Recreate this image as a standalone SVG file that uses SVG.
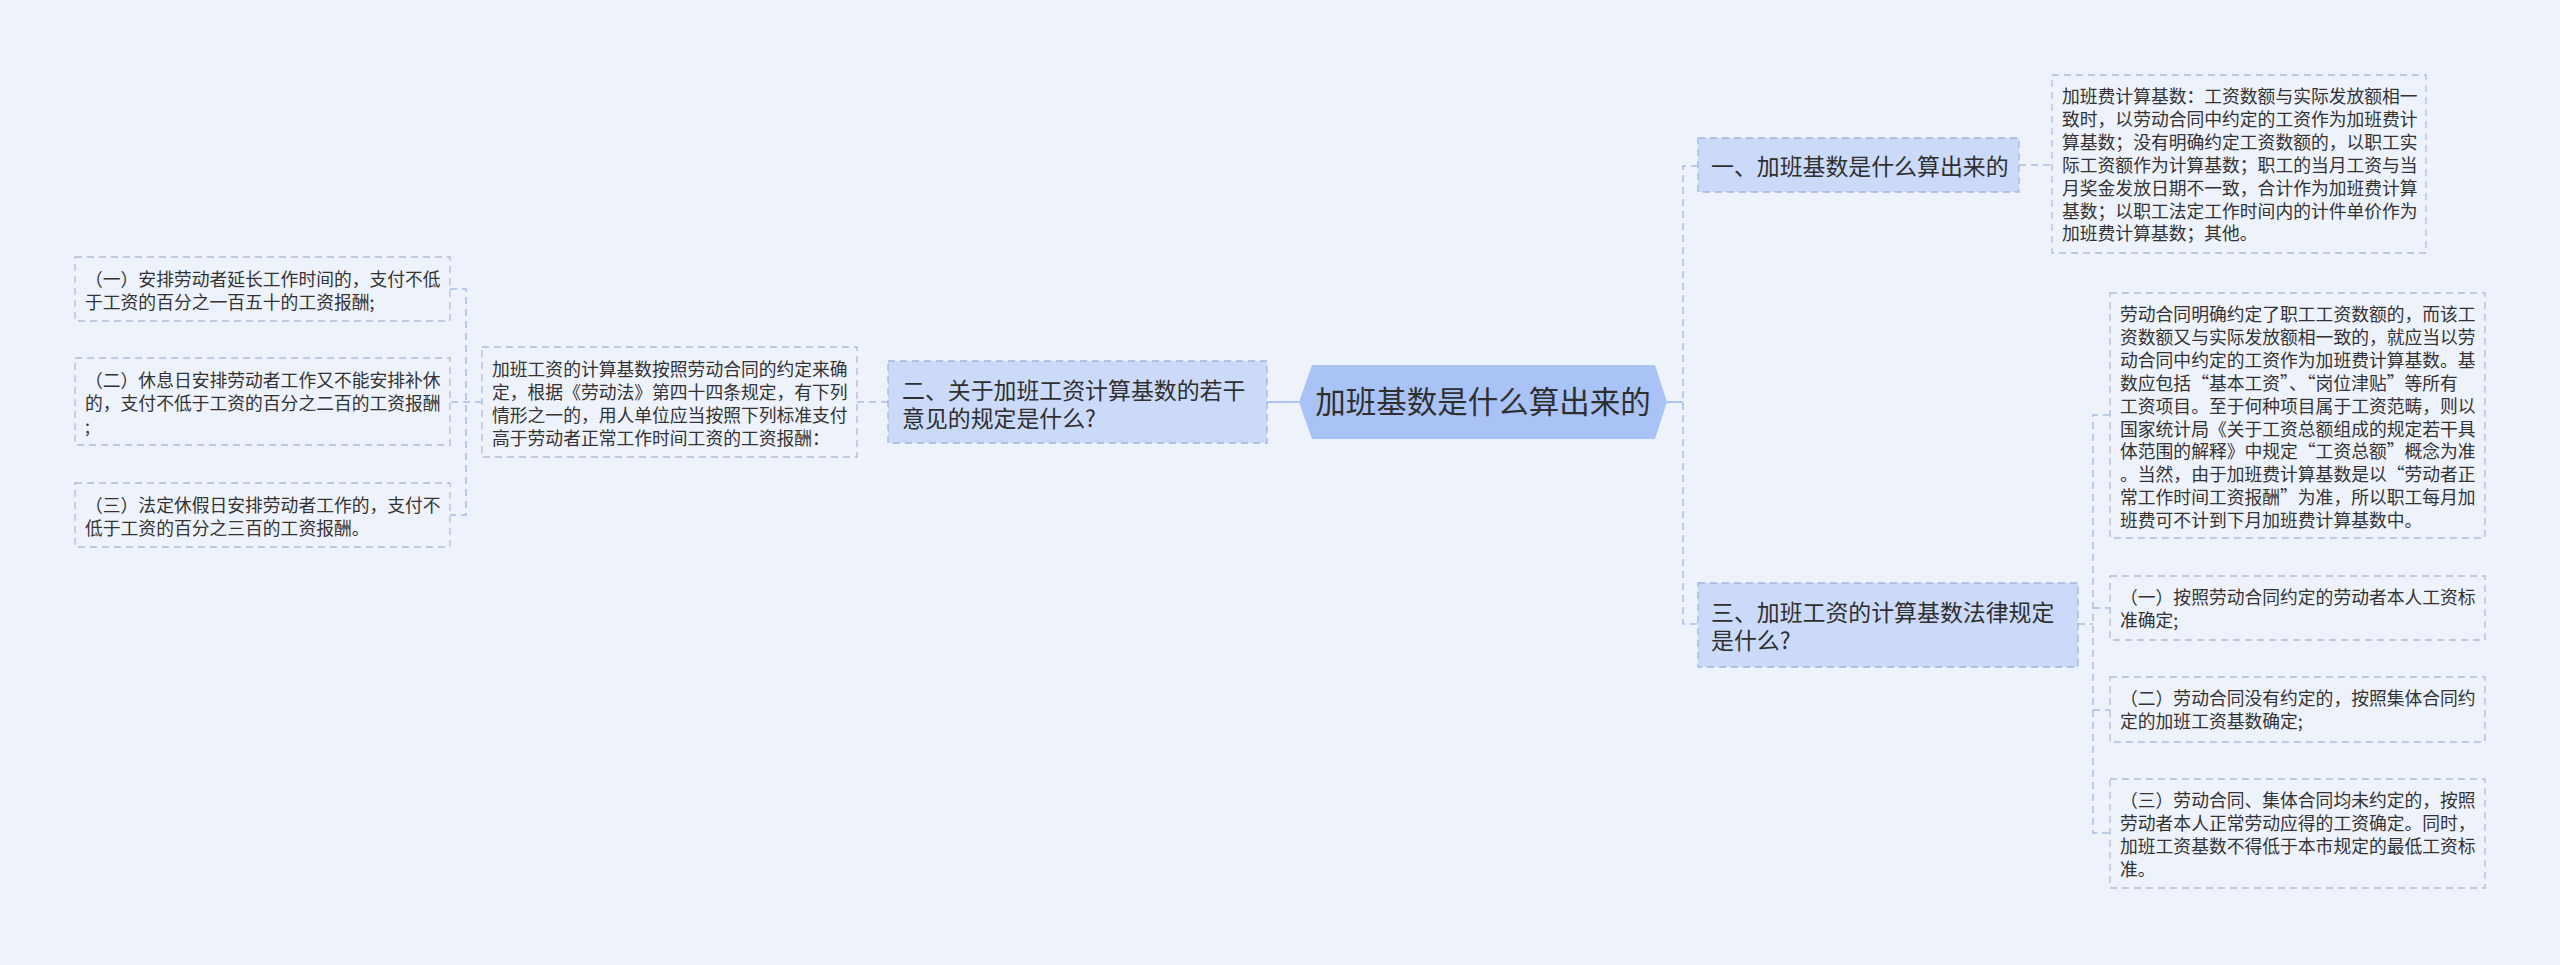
<svg xmlns="http://www.w3.org/2000/svg" width="2560" height="965" viewBox="0 0 2560 965">
<defs>
<style>
.bg{fill:#eef2fb}
.root{fill:#a9c3f6}
.main{fill:#cbdaf9;stroke:#a3b3de;stroke-width:1.3;stroke-dasharray:7 5}
.leaf{fill:none;stroke:#b1bad6;stroke-width:1.3;stroke-dasharray:7 5}
.t{font-family:"Noto Sans CJK SC","Noto Sans",sans-serif;fill:#2f2f2f}
.tr{font-size:30.5px}
.tm{font-size:22.9px}
.tl{font-size:17.8px;fill:#333}
.c{fill:none;stroke:#a8bbe6;stroke-width:1.5;stroke-dasharray:7 5}
.cs{fill:none;stroke:#a9c3f6;stroke-width:2}
</style>
</defs>
<rect class="bg" x="0" y="0" width="2560" height="965"/>

<g id="connectors">
<path class="cs" d="M1267,402 H1299"/>
<path class="c" d="M857,402 H888"/>
<path class="c" d="M482,402 H450"/>
<path class="c" d="M450,289 H466 V515 H450"/>
<path class="cs" d="M1667,402 H1683"/>
<path class="c" d="M1698,166 H1683 V624 H1698"/>
<path class="c" d="M2019,165 H2052"/>
<path class="c" d="M2078,624 H2093"/>
<path class="c" d="M2110,415 H2093 V833 H2110"/>
<path class="c" d="M2093,608 H2110"/>
<path class="c" d="M2093,710 H2110"/>
</g>

<g id="root">
<polygon class="root" points="1299,402 1312,365 1655,365 1667,402 1655,439 1312,439"/>
<text class="t tr" x="1483" y="413" text-anchor="middle">加班基数是什么算出来的</text>
</g>

<g id="n1">
<rect class="main" x="1698" y="138" width="321" height="54"/>
<text class="t tm" x="1711" y="175">一、加班基数是什么算出来的</text>
</g>

<g id="n2">
<rect class="main" x="888" y="361" width="379" height="82"/>
<text class="t tm"><tspan x="902" y="399">二、关于加班工资计算基数的若干</tspan><tspan x="902" y="426.5">意见的规定是什么?</tspan></text>
</g>

<g id="n3">
<rect class="main" x="1698" y="583" width="380" height="84"/>
<text class="t tm"><tspan x="1711" y="621">三、加班工资的计算基数法律规定</tspan><tspan x="1711" y="648.5">是什么?</tspan></text>
</g>

<g id="d1">
<rect class="leaf" x="2052" y="75" width="374" height="178"/>
<text class="t tl"><tspan x="2062" y="103">加班费计算基数：工资数额与实际发放额相一</tspan><tspan x="2062" y="125.9">致时，以劳动合同中约定的工资作为加班费计</tspan><tspan x="2062" y="148.8">算基数；没有明确约定工资数额的，以职工实</tspan><tspan x="2062" y="171.7">际工资额作为计算基数；职工的当月工资与当</tspan><tspan x="2062" y="194.6">月奖金发放日期不一致，合计作为加班费计算</tspan><tspan x="2062" y="217.5">基数；以职工法定工作时间内的计件单价作为</tspan><tspan x="2062" y="240.4">加班费计算基数；其他。</tspan></text>
</g>

<g id="d2">
<rect class="leaf" x="2110" y="293" width="375" height="245"/>
<text class="t tl"><tspan x="2120" y="321">劳动合同明确约定了职工工资数额的，而该工</tspan><tspan x="2120" y="343.9">资数额又与实际发放额相一致的，就应当以劳</tspan><tspan x="2120" y="366.8">动合同中约定的工资作为加班费计算基数。基</tspan><tspan x="2120" y="389.7">数应包括“基本工资”、“岗位津贴”等所有</tspan><tspan x="2120" y="412.6">工资项目。至于何种项目属于工资范畴，则以</tspan><tspan x="2120" y="435.5">国家统计局《关于工资总额组成的规定若干具</tspan><tspan x="2120" y="458.4">体范围的解释》中规定“工资总额”概念为准</tspan><tspan x="2120" y="481.3">。当然，由于加班费计算基数是以“劳动者正</tspan><tspan x="2120" y="504.2">常工作时间工资报酬”为准，所以职工每月加</tspan><tspan x="2120" y="527.1">班费可不计到下月加班费计算基数中。</tspan></text>
</g>

<g id="d3">
<rect class="leaf" x="2110" y="576" width="375" height="64"/>
<text class="t tl"><tspan x="2120" y="604">（一）按照劳动合同约定的劳动者本人工资标</tspan><tspan x="2120" y="626.9">准确定;</tspan></text>
</g>

<g id="d4">
<rect class="leaf" x="2110" y="677" width="375" height="65"/>
<text class="t tl"><tspan x="2120" y="705">（二）劳动合同没有约定的，按照集体合同约</tspan><tspan x="2120" y="727.9">定的加班工资基数确定;</tspan></text>
</g>

<g id="d5">
<rect class="leaf" x="2110" y="779" width="375" height="109"/>
<text class="t tl"><tspan x="2120" y="807">（三）劳动合同、集体合同均未约定的，按照</tspan><tspan x="2120" y="829.9">劳动者本人正常劳动应得的工资确定。同时，</tspan><tspan x="2120" y="852.8">加班工资基数不得低于本市规定的最低工资标</tspan><tspan x="2120" y="875.7">准。</tspan></text>
</g>

<g id="d6">
<rect class="leaf" x="482" y="347" width="375" height="110"/>
<text class="t tl"><tspan x="492" y="376">加班工资的计算基数按照劳动合同的约定来确</tspan><tspan x="492" y="398.9">定，根据《劳动法》第四十四条规定，有下列</tspan><tspan x="492" y="421.8">情形之一的，用人单位应当按照下列标准支付</tspan><tspan x="492" y="444.7">高于劳动者正常工作时间工资的工资报酬：</tspan></text>
</g>

<g id="l1">
<rect class="leaf" x="75" y="257" width="375" height="64"/>
<text class="t tl"><tspan x="85" y="286">（一）安排劳动者延长工作时间的，支付不低</tspan><tspan x="85" y="308.9">于工资的百分之一百五十的工资报酬;</tspan></text>
</g>

<g id="l2">
<rect class="leaf" x="75" y="358" width="375" height="87"/>
<text class="t tl"><tspan x="85" y="387">（二）休息日安排劳动者工作又不能安排补休</tspan><tspan x="85" y="409.9">的，支付不低于工资的百分之二百的工资报酬</tspan><tspan x="85" y="432.8">;</tspan></text>
</g>

<g id="l3">
<rect class="leaf" x="75" y="483" width="375" height="64"/>
<text class="t tl"><tspan x="85" y="512">（三）法定休假日安排劳动者工作的，支付不</tspan><tspan x="85" y="534.9">低于工资的百分之三百的工资报酬。</tspan></text>
</g>
</svg>
